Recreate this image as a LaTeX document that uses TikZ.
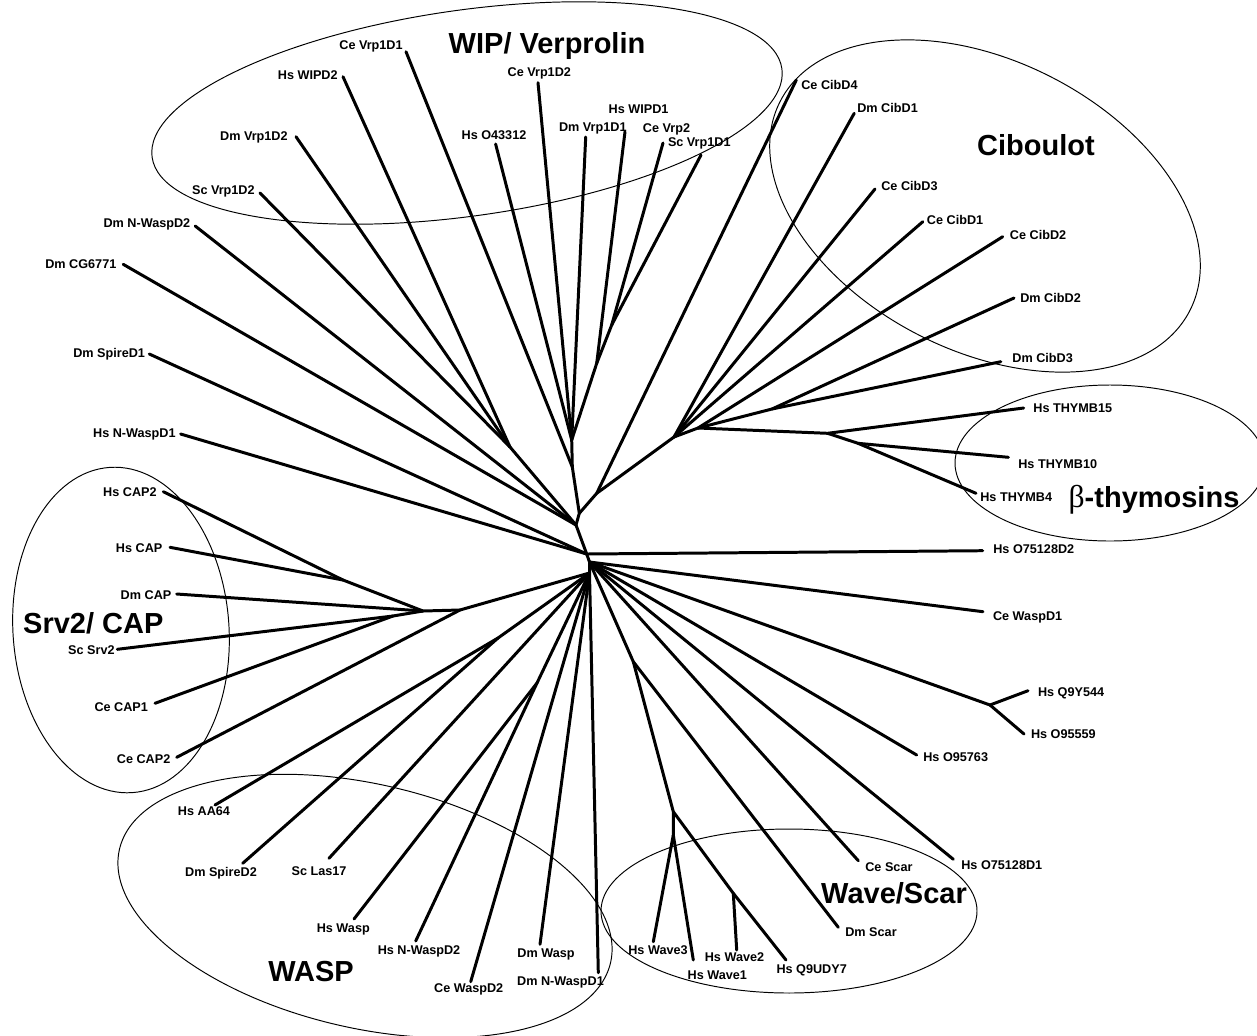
\documentclass[tikz,border=0pt]{standalone}
\usepackage{fontspec}
\setmainfont{Liberation Sans}
\newfontfamily\greekserif{Liberation Serif}
\usepackage{tikz}

\begin{document}
\begin{tikzpicture}[x=0.02cm,y=0.02cm,
  branch/.style={line width=1.7pt,line cap=round,line join=round},
  hull/.style={line width=0.55pt},
  leaf/.style={font=\fontsize{7.2}{8}\selectfont\bfseries,inner sep=0pt,text height=5.2pt,text depth=0pt},
  group/.style={font=\fontsize{16.5}{18}\selectfont\bfseries,inner sep=0pt,text height=11.8pt,text depth=0pt}]
			\useasboundingbox (0,0) rectangle (1257,-1035);
			\clip (0,0) rectangle (1257,-1035);
			
			%%%%% GROUPS %%%%%
			\draw[hull, rotate around={8:(467,-113)}] (467,-113) ellipse [x radius=318, y radius=103];
			\draw[hull, rotate around={-27:(985,-206)}] (985,-206) ellipse [x radius=230, y radius=145];
			\draw[hull] (1110,-463) ellipse [x radius=155, y radius=78];
			\draw[hull, rotate around={4:(121,-630)}] (121,-630) ellipse [x radius=108, y radius=163];
			\draw[hull, rotate around={-13:(365,-906)}] (365,-906) ellipse [x radius=252, y radius=122];
			\draw[hull] (789,-911) ellipse [x radius=188, y radius=82];
			
			\node[group] (gWIP) at (547,-42.7) {WIP/ Verprolin};
			\node[group] (gCib) at (1036,-145) {Ciboulot};
			\node[group] (gThy) at (1154,-497) {{\greekserif\mdseries\fontsize{18}{20}\selectfont β}-thymosins};
			\node[group] (gCAP) at (93.3,-623.3) {Srv2/ CAP};
			\node[group] (gWASP) at (311,-971) {WASP};
			\node[group] (gWave) at (894,-893) {Wave/Scar};
			
			%%%%% INNER POINTS %%%%%
			\coordinate (R) at (586.7,-554);
			\coordinate (N1) at (576,-525);
			\coordinate (N2) at (579.3,-513.3);
			\coordinate (N3) at (596.7,-493.3);
			\coordinate (W1) at (572.3,-467);
			\coordinate (W0) at (571.7,-440);
			\coordinate (W2) at (596.7,-363.3);
			\coordinate (W3) at (611.7,-325);
			\coordinate (S) at (510,-447);
			\coordinate (C0) at (674,-437);
			\coordinate (C1) at (698,-428);
			\coordinate (C3) at (772,-409);
			\coordinate (T0) at (827.6,-433.3);
			\coordinate (T1) at (858,-443.3);
			\coordinate (Z1) at (589.5,-562);
			\coordinate (Z2) at (589.5,-573);
			\coordinate (CapC) at (460,-610);
			\coordinate (CapB) at (423,-611);
			\coordinate (CapA) at (343,-580);
			\coordinate (CapD) at (393,-616);
			\coordinate (WaspA) at (498,-638);
			\coordinate (WaspB) at (537,-683);
			\coordinate (V0) at (633.3,-661.7);
			\coordinate (V1) at (673.3,-811.7);
			\coordinate (V2) at (673.3,-835);
			\coordinate (V3) at (733.3,-893.3);
			\coordinate (Q) at (990,-705);
			
			%%%%% WIP / VERPROLIN %%%%%
			\coordinate (CeVrp1D1) at (406,-51.7);
			\coordinate (HsWIPD2) at (343,-76.7);
			\coordinate (DmVrp1D2) at (296,-136.7);
			\coordinate (ScVrp1D2) at (260,-193);
			\coordinate (HsO43312) at (495.6,-144);
			\coordinate (CeVrp1D2) at (538,-82.7);
			\coordinate (DmVrp1D1) at (585.7,-137);
			\coordinate (HsWIPD1) at (625,-131.7);
			\coordinate (CeVrp2) at (663,-143);
			\coordinate (ScVrp1D1) at (701,-155);
			
			\node[leaf,anchor=east] (lCeVrp1D1) at (403,-45) {Ce Vrp1D1};
			\node[leaf,anchor=east] (lHsWIPD2) at (338,-75) {Hs WIPD2};
			\node[leaf,anchor=east] (lDmVrp1D2) at (288,-136) {Dm Vrp1D2};
			\node[leaf,anchor=east] (lScVrp1D2) at (255,-190) {Sc Vrp1D2};
			\node[leaf] (lHsO43312) at (494,-135) {Hs O43312};
			\node[leaf] (lCeVrp1D2) at (539.3,-71.7) {Ce Vrp1D2};
			\node[leaf] (lDmVrp1D1) at (592.8,-127) {Dm Vrp1D1};
			\node[leaf] (lHsWIPD1) at (638.6,-109) {Hs WIPD1};
			\node[leaf] (lCeVrp2) at (666.5,-128) {Ce Vrp2};
			\node[leaf] (lScVrp1D1) at (699.3,-141.7) {Sc Vrp1D1};
			
			\draw[branch] (R) -- (N1) -- (N2) -- (W1) -- (W0);
			\draw[branch] (W1) -- (CeVrp1D1);
			\draw[branch] (W0) -- (HsO43312);
			\draw[branch] (W0) -- (CeVrp1D2);
			\draw[branch] (W0) -- (DmVrp1D1);
			\draw[branch] (W0) -- (W2) -- (HsWIPD1);
			\draw[branch] (W2) -- (W3) -- (CeVrp2);
			\draw[branch] (W3) -- (ScVrp1D1);
			\draw[branch] (N1) -- (S);
			\draw[branch] (S) -- (ScVrp1D2);
			\draw[branch] (S) -- (DmVrp1D2);
			\draw[branch] (S) -- (HsWIPD2);
			
			%%%%% LEFT %%%%%
			\coordinate (DmNWaspD2) at (195.2,-226);
			\coordinate (DmCG6771) at (123.2,-264.3);
			\coordinate (DmSpireD1) at (149.3,-354);
			\coordinate (HsNWaspD1) at (180.6,-434);
			
			\node[leaf,anchor=east] (lDmNWaspD2) at (190.6,-222.7) {Dm N-WaspD2};
			\node[leaf,anchor=east] (lDmCG6771) at (116.7,-264.3) {Dm CG6771};
			\node[leaf,anchor=east] (lDmSpireD1) at (145.4,-352.7) {Dm SpireD1};
			\node[leaf,anchor=east] (lHsNWaspD1) at (176,-432.7) {Hs N-WaspD1};
			
			\draw[branch] (N1) -- (DmNWaspD2);
			\draw[branch] (N1) -- (DmCG6771);
			\draw[branch] (R) -- (DmSpireD1);
			\draw[branch] (R) -- (HsNWaspD1);
			
			%%%%% CIBOULOT / THYMOSINS %%%%%
			\coordinate (CeCibD4) at (796.3,-80);
			\coordinate (DmCibD1) at (854.2,-113.3);
			\coordinate (CeCibD3) at (875,-189);
			\coordinate (CeCibD1) at (922.8,-221.7);
			\coordinate (CeCibD2) at (1002.7,-236.7);
			\coordinate (DmCibD2) at (1014,-298);
			\coordinate (DmCibD3) at (1000.8,-361.7);
			\coordinate (HsTHYMB15) at (1023.7,-408);
			\coordinate (HsTHYMB10) at (1008.4,-457.3);
			\coordinate (HsTHYMB4) at (976,-493.3);
			
			\node[leaf,anchor=west] (lCeCibD4) at (801,-85) {Ce CibD4};
			\node[leaf,anchor=west] (lDmCibD1) at (857,-108) {Dm CibD1};
			\node[leaf,anchor=west] (lCeCibD3) at (881,-186) {Ce CibD3};
			\node[leaf,anchor=west] (lCeCibD1) at (926.6,-220) {Ce CibD1};
			\node[leaf,anchor=west] (lCeCibD2) at (1009.6,-235) {Ce CibD2};
			\node[leaf,anchor=west] (lDmCibD2) at (1020,-298) {Dm CibD2};
			\node[leaf,anchor=west] (lDmCibD3) at (1012,-357.7) {Dm CibD3};
			\node[leaf,anchor=west] (lHsTHYMB15) at (1033,-408) {Hs THYMB15};
			\node[leaf,anchor=west] (lHsTHYMB10) at (1018,-464) {Hs THYMB10};
			\node[leaf,anchor=west] (lHsTHYMB4) at (980,-497) {Hs THYMB4};
			
			\draw[branch] (N2) -- (N3) -- (CeCibD4);
			\draw[branch] (N3) -- (C0);
			\draw[branch] (C0) -- (DmCibD1);
			\draw[branch] (C0) -- (CeCibD3);
			\draw[branch] (C0) -- (CeCibD1);
			\draw[branch] (C0) -- (C1) -- (CeCibD2);
			\draw[branch] (C1) -- (C3) -- (DmCibD2);
			\draw[branch] (C3) -- (DmCibD3);
			\draw[branch] (C1) -- (T0) -- (HsTHYMB15);
			\draw[branch] (T0) -- (T1) -- (HsTHYMB10);
			\draw[branch] (T1) -- (HsTHYMB4);
			
			%%%%% RIGHT %%%%%
			\coordinate (HsO75128D2) at (982.7,-550.7);
			\coordinate (CeWaspD1) at (983,-611.7);
			\coordinate (HsQ9Y544) at (1028,-690.7);
			\coordinate (HsO95559) at (1024,-734);
			\coordinate (HsO95763) at (916.7,-755);
			\coordinate (HsO75128D1) at (953.3,-859.3);
			
			\node[leaf,anchor=west] (lHsO75128D2) at (993,-549) {Hs O75128D2};
			\node[leaf,anchor=west] (lCeWaspD1) at (992.7,-616) {Ce WaspD1};
			\node[leaf,anchor=west] (lHsQ9Y544) at (1037.7,-691.7) {Hs Q9Y544};
			\node[leaf,anchor=west] (lHsO95559) at (1030.7,-734) {Hs O95559};
			\node[leaf,anchor=west] (lHsO95763) at (923,-756.7) {Hs O95763};
			\node[leaf,anchor=west] (lHsO75128D1) at (961,-865) {Hs O75128D1};
			
			\draw[branch] (R) -- (HsO75128D2);
			\draw[branch] (R) -- (Z1) -- (Z2);
			\draw[branch] (Z1) -- (CeWaspD1);
			\draw[branch] (Z1) -- (Q) -- (HsQ9Y544);
			\draw[branch] (Q) -- (HsO95559);
			\draw[branch] (Z1) -- (HsO95763);
			\draw[branch] (Z1) -- (HsO75128D1);
			
			%%%%% WAVE / SCAR %%%%%
			\coordinate (CeScar) at (858.3,-860.7);
			\coordinate (DmScar) at (838.3,-927.3);
			\coordinate (HsQ9UDY7) at (786,-960);
			\coordinate (HsWave2) at (736.7,-950);
			\coordinate (HsWave1) at (693.3,-960);
			\coordinate (HsWave3) at (653.3,-941.7);
			
			\node[leaf,anchor=west] (lCeScar) at (865,-867) {Ce Scar};
			\node[leaf,anchor=west] (lDmScar) at (845,-931.7) {Dm Scar};
			\node[leaf] (lHsQ9UDY7) at (811.7,-969) {Hs Q9UDY7};
			\node[leaf] (lHsWave2) at (734.5,-957) {Hs Wave2};
			\node[leaf] (lHsWave1) at (717.3,-975) {Hs Wave1};
			\node[leaf] (lHsWave3) at (658,-950) {Hs Wave3};
			
			\draw[branch] (Z1) -- (CeScar);
			\draw[branch] (Z1) -- (V0) -- (DmScar);
			\draw[branch] (V0) -- (V1) -- (V2) -- (HsWave3);
			\draw[branch] (V2) -- (HsWave1);
			\draw[branch] (V1) -- (V3) -- (HsQ9UDY7);
			\draw[branch] (V3) -- (HsWave2);
			
			%%%%% SRV2 / CAP %%%%%
			\coordinate (HsCAP2) at (163.3,-491.7);
			\coordinate (HsCAP) at (170,-547.3);
			\coordinate (DmCAP) at (176.7,-594);
			\coordinate (ScSrv2) at (117.3,-649.3);
			\coordinate (CeCAP1) at (155,-703.3);
			\coordinate (CeCAP2) at (176.7,-757.3);
			
			\node[leaf,anchor=east] (lHsCAP2) at (157,-491.7) {Hs CAP2};
			\node[leaf,anchor=east] (lHsCAP) at (162.7,-548.3) {Hs CAP};
			\node[leaf,anchor=east] (lDmCAP) at (171.7,-595) {Dm CAP};
			\node[leaf,anchor=east] (lScSrv2) at (115,-650) {Sc Srv2};
			\node[leaf,anchor=east] (lCeCAP1) at (148.3,-706.7) {Ce CAP1};
			\node[leaf,anchor=east] (lCeCAP2) at (170.7,-759.3) {Ce CAP2};
			
			\draw[branch] (Z2) -- (CapC) -- (CeCAP2);
			\draw[branch] (CapC) -- (CapB) -- (DmCAP);
			\draw[branch] (CapB) -- (CapA) -- (HsCAP2);
			\draw[branch] (CapA) -- (HsCAP);
			\draw[branch] (CapB) -- (CapD) -- (ScSrv2);
			\draw[branch] (CapD) -- (CeCAP1);
			
			%%%%% WASP %%%%%
			\coordinate (HsAA64) at (215,-805);
			\coordinate (DmSpireD2) at (242.7,-863.3);
			\coordinate (ScLas17) at (329,-858.3);
			\coordinate (HsWasp) at (354,-919);
			\coordinate (HsNWaspD2) at (415.7,-941);
			\coordinate (CeWaspD2) at (470.7,-981.7);
			\coordinate (DmWasp) at (540,-944.3);
			\coordinate (DmNWaspD1) at (598.3,-972.7);
			
			\node[leaf] (lHsAA64) at (204,-810.7) {Hs AA64};
			\node[leaf] (lDmSpireD2) at (221,-872.3) {Dm SpireD2};
			\node[leaf] (lScLas17) at (319,-871) {Sc Las17};
			\node[leaf] (lHsWasp) at (343.3,-928.3) {Hs Wasp};
			\node[leaf] (lHsNWaspD2) at (419,-950) {Hs N-WaspD2};
			\node[leaf] (lCeWaspD2) at (468.7,-988.3) {Ce WaspD2};
			\node[leaf] (lDmWasp) at (546,-952.7) {Dm Wasp};
			\node[leaf] (lDmNWaspD1) at (560.5,-980.7) {Dm N-WaspD1};
			
			\draw[branch] (Z2) -- (WaspA) -- (HsAA64);
			\draw[branch] (WaspA) -- (DmSpireD2);
			\draw[branch] (Z2) -- (ScLas17);
			\draw[branch] (Z2) -- (WaspB) -- (HsWasp);
			\draw[branch] (WaspB) -- (HsNWaspD2);
			\draw[branch] (Z2) -- (CeWaspD2);
			\draw[branch] (Z2) -- (DmWasp);
			\draw[branch] (Z2) -- (DmNWaspD1);
			
\end{tikzpicture}
\end{document}
